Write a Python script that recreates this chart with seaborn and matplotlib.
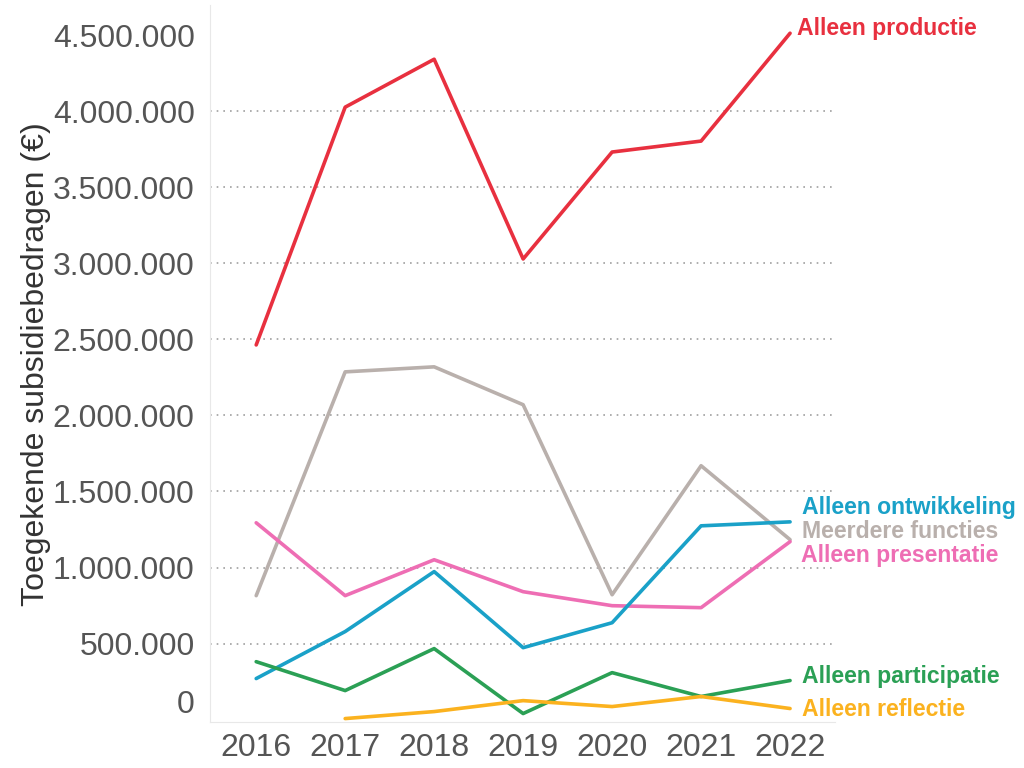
import numpy as np
import pandas as pd
import matplotlib.pyplot as plt
import seaborn as sns
from matplotlib.ticker import FixedLocator, FuncFormatter

years = [2016, 2017, 2018, 2019, 2020, 2021, 2022]
productie = [2463000, 4026000, 4341000, 3028000, 3731000, 3803000, 4512000]
meerdere = [815000, 2286000, 2319000, 2070000, 821000, 1669000, 1183000]
presentatie = [1294000, 815000, 1051000, 841000, 749000, 736000, 1170000]
ontwikkeling = [270000, 579000, 973000, 473000, 637000, 1274000, 1300000]
participatie = [381000, 191000, 467000, 40000, 309000, 152000, 257000]
reflectie = [np.nan, 7000, 53000, 125000, 86000, 152000, 73000]

series = {
    "Alleen productie": productie,
    "Meerdere functies": meerdere,
    "Alleen presentatie": presentatie,
    "Alleen ontwikkeling": ontwikkeling,
    "Alleen participatie": participatie,
    "Alleen reflectie": reflectie,
}
colors = {
    "Alleen productie": "#e8303f",
    "Meerdere functies": "#b9b0ac",
    "Alleen presentatie": "#ee6eb4",
    "Alleen ontwikkeling": "#1aa1c8",
    "Alleen participatie": "#2ba055",
    "Alleen reflectie": "#fbb21f",
}
# label offsets in pixels (x, y) to avoid overlap
label_offsets = {
    "Alleen productie": (7, 5),
    "Meerdere functies": (12, 8),
    "Alleen presentatie": (11, -14),
    "Alleen ontwikkeling": (12, 14),
    "Alleen participatie": (12, 4),
    "Alleen reflectie": (12, -1),
}

rows = []
for name, vals in series.items():
    for y, v in zip(years, vals):
        rows.append({"jaar": y, "bedrag": v, "functie": name})
df = pd.DataFrame(rows).dropna()

sns.set_style("white")
plt.rcParams["font.family"] = ["Liberation Sans", "DejaVu Sans"]

fig = plt.figure(figsize=(10.24, 7.68), dpi=100)
ax = fig.add_axes([0.205, 0.06, 0.61, 0.933])
sns.lineplot(data=df, x="jaar", y="bedrag", hue="functie", palette=colors,
             linewidth=2.6, legend=False, ax=ax)

for name, vals in series.items():
    dx, dy = label_offsets[name]
    ax.annotate(name, xy=(years[-1], vals[-1]), xytext=(dx, dy),
                textcoords="offset pixels", ha="left", va="center",
                fontsize=16.6, fontweight="bold", color=colors[name],
                annotation_clip=False)

ax.set_xlim(2015.48, 2022.5)
ax.set_ylim(-15000, 4695000)
ax.xaxis.set_major_locator(FixedLocator(years))
ax.yaxis.set_major_locator(FixedLocator(np.arange(0, 4500001, 500000)))
ax.yaxis.set_major_formatter(FuncFormatter(lambda v, p: f"{int(v):,}".replace(",", ".")))

ax.tick_params(axis="both", labelsize=23, colors="#555555", length=0)
ax.tick_params(axis="y", pad=11)
ax.tick_params(axis="x", pad=8)
ax.set_xlabel("")
ax.set_ylabel("Toegekende subsidiebedragen (€)", fontsize=23, color="#333333")
ax.yaxis.set_label_coords(-0.255, 0.5)

ax.yaxis.grid(True, linestyle=(0, (1, 3)), color="#a0a0a0", linewidth=1.2)
gl = ax.yaxis.get_gridlines()
gl[0].set_visible(False)
gl[-1].set_visible(False)

for side in ["top", "right"]:
    ax.spines[side].set_visible(False)
for side in ["left", "bottom"]:
    ax.spines[side].set_color("#e8e8e8")

for lbl in ax.get_yticklabels():
    if lbl.get_text() == "0":
        lbl.set_verticalalignment("bottom")

fig.savefig("out.png", dpi=100)
